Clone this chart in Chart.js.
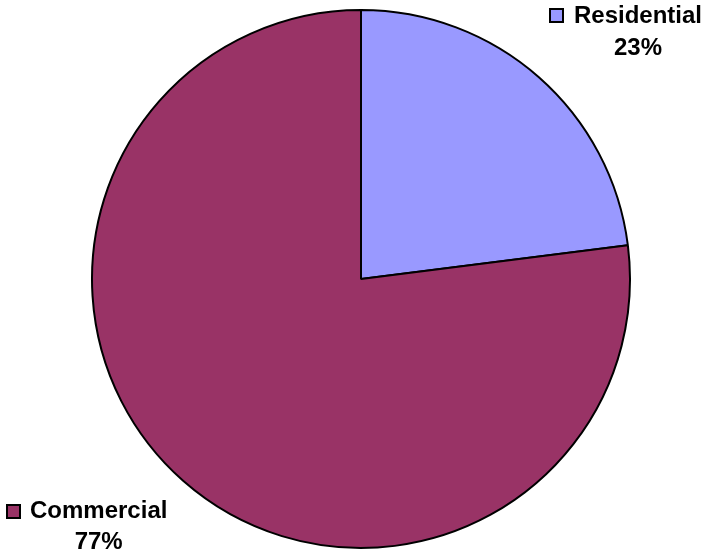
<!DOCTYPE html>
<html>
<head>
<meta charset="utf-8">
<script src="https://cdn.jsdelivr.net/npm/chart.js@4/dist/chart.umd.min.js"></script>
<style>
  body { margin: 0; background: #fff; }
</style>
</head>
<body>
<canvas id="pieChart" width="707" height="554"></canvas>
<script>
let categories = ['Residential', 'Commercial'];
let shares = [23, 77];
let sliceColors = ['#9999FF', '#993366'];

// label boxes drawn outside the pie, like the original
let sliceLabels = {
    id: 'sliceLabels',
    afterDraw(chart) {
        let ctx = chart.ctx;
        let spots = [
            { keyX: 549, keyY: 8, textX: 574, base: 23, pctBase: 55 },
            { keyX: 6, keyY: 504, textX: 30, base: 518, pctBase: 549 }
        ];
        ctx.save();
        ctx.font = 'bold 24px "Liberation Sans", Arial, sans-serif';
        ctx.textBaseline = 'alphabetic';
        categories.forEach((name, i) => {
            let s = spots[i];
            ctx.fillStyle = sliceColors[i];
            ctx.fillRect(s.keyX, s.keyY, 15, 15);
            ctx.strokeStyle = '#000';
            ctx.lineWidth = 2;
            ctx.strokeRect(s.keyX + 1, s.keyY + 1, 13, 13);
            ctx.fillStyle = '#000';
            ctx.textAlign = 'left';
            ctx.fillText(name, s.textX, s.base);
            let mid = s.textX + ctx.measureText(name).width / 2;
            ctx.textAlign = 'center';
            ctx.fillText(shares[i] + '%', mid, s.pctBase);
        });
        ctx.restore();
    }
};

let pieChart = new Chart(document.getElementById('pieChart').getContext('2d'), {
    type: 'pie',
    data: {
        labels: categories,
        datasets: [{
            data: shares,
            backgroundColor: sliceColors,
            borderColor: '#000',
            borderWidth: 2
        }]
    },
    options: {
        responsive: false,
        animation: false,
        layout: { padding: { left: 91, right: 76, top: 9, bottom: 5 } },
        plugins: {
            legend: { display: false },
            tooltip: { enabled: false }
        }
    },
    plugins: [sliceLabels]
});
</script>
</body>
</html>
